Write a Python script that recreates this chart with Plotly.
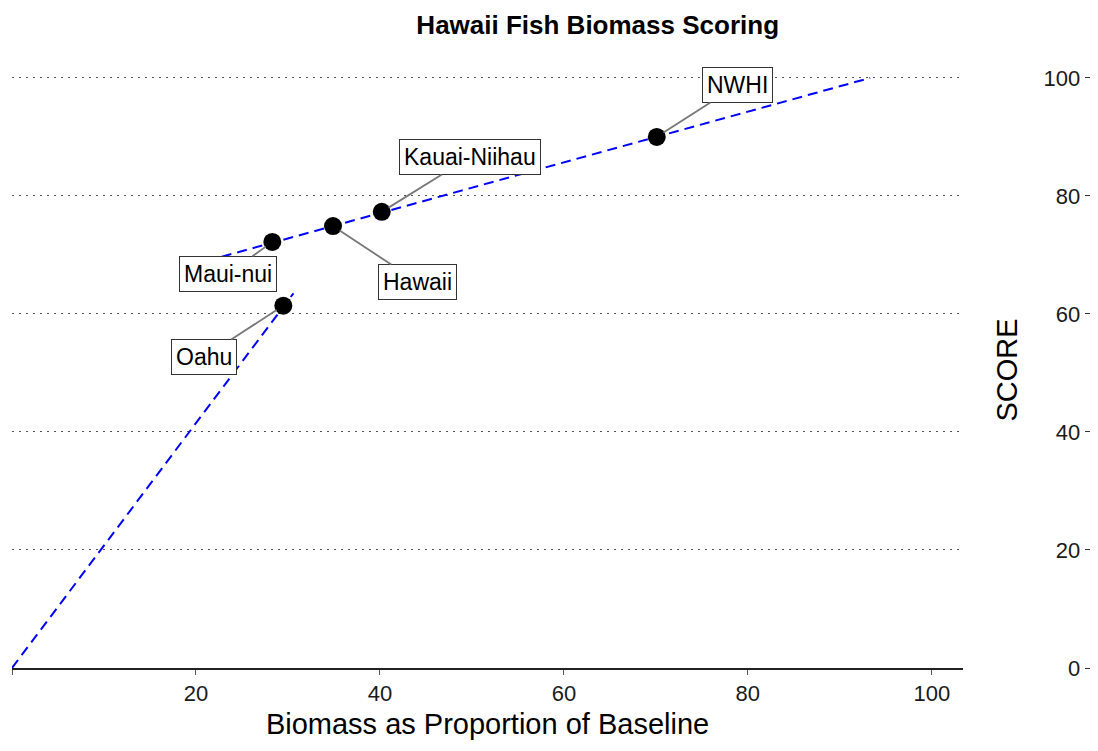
import plotly.graph_objects as go

# Data
regions = ["Oahu", "Maui-nui", "Hawaii", "Kauai-Niihau", "NWHI"]
biomass = [29.5, 28.3, 34.9, 40.2, 70.1]
score = [61.4, 72.2, 74.9, 77.3, 90.0]
label_x = [20.9, 23.5, 44.1, 49.8, 78.9]
label_y = [52.7, 66.8, 65.4, 86.6, 98.8]

# scoring curve (two visible segments)
curve_x = [0, 30.6, None, 22.8, 93.3]
curve_y = [0, 63.5, None, 69.7, 100]

x_ticks = [0, 20, 40, 60, 80, 100]
y_ticks = [0, 20, 40, 60, 80, 100]

FONT = "Liberation Sans, Arial, sans-serif"

fig = go.Figure()
fig.add_trace(go.Scatter(x=curve_x, y=curve_y, mode="lines",
                         line=dict(color="#0000ff", width=2, dash="10px,6px"),
                         hoverinfo="skip", showlegend=False))
fig.add_trace(go.Scatter(x=biomass, y=score, mode="markers",
                         marker=dict(color="black", size=18),
                         text=regions, showlegend=False))

for name, px_, py_, lx, ly in zip(regions, biomass, score, label_x, label_y):
    fig.add_annotation(x=px_, y=py_, ax=lx, ay=ly, axref="x", ayref="y",
                       text=name, showarrow=True, arrowhead=0, arrowwidth=1.8,
                       arrowcolor="#777777", standoff=8,
                       font=dict(family=FONT, size=23, color="black"),
                       bgcolor="white", bordercolor="#333333", borderwidth=1,
                       borderpad=4)

fig.update_layout(
    width=1090, height=743,
    margin=dict(l=4, r=4, t=64, b=83),
    paper_bgcolor="white", plot_bgcolor="white",
    font=dict(family=FONT, color="black"),
    title=dict(text="<b>Hawaii Fish Biomass Scoring</b>", x=0.541, xanchor="center",
               y=0.99, yanchor="top",
               font=dict(family=FONT, size=26, color="black")),
    xaxis=dict(domain=[0, 0.879], range=[0, 103.4], tickvals=x_ticks,
               automargin=False,
               showgrid=False, zeroline=False, showline=True, linecolor="#222222",
               linewidth=2, ticks="outside", ticklen=5, tickcolor="#555555",
               tickfont=dict(size=22, family=FONT, color="#1a1a1a"),
               title=dict(text="Biomass as Proportion of Baseline", standoff=8,
                          font=dict(size=29, family=FONT, color="black"))),
    yaxis=dict(anchor="free", position=0.996, side="left", range=[0, 101],
               automargin=False,
               tickvals=y_ticks, showgrid=True, gridcolor="#555555",
               griddash="2px,5px", gridwidth=1, zeroline=False, showline=False,
               ticks="outside", ticklen=5, tickcolor="#333333",
               tickfont=dict(size=22, family=FONT, color="#1a1a1a"),
               title=dict(text="SCORE", standoff=16,
                          font=dict(size=29, family=FONT, color="black"))),
)

fig.write_html("out.html")
